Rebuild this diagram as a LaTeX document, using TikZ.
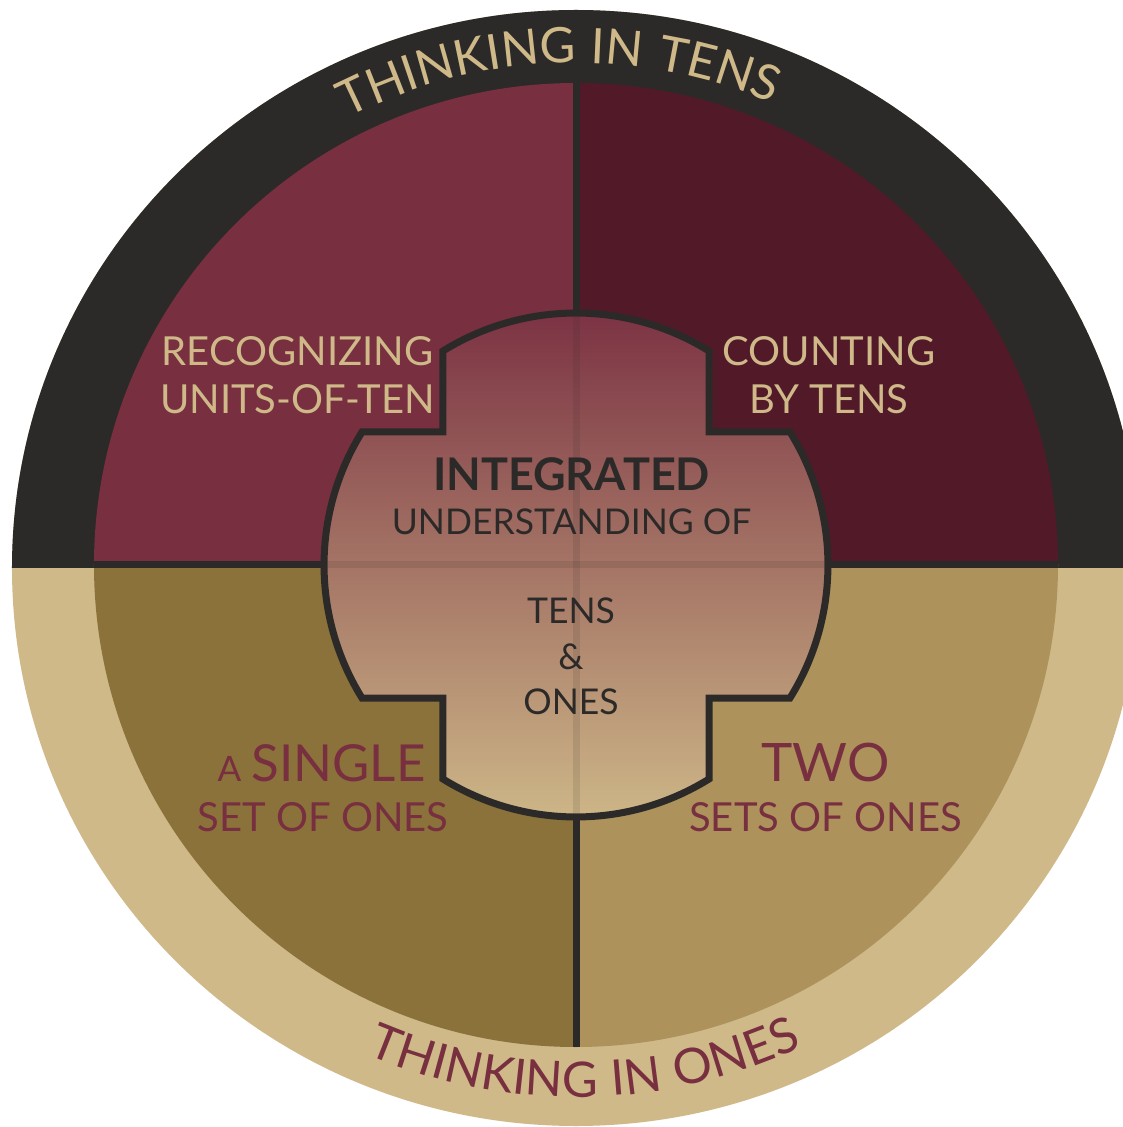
\documentclass[tikz,border=0pt]{standalone}
\usepackage{fontspec}
\setmainfont{Lato}
\newfontfamily\ringfamily[LetterSpace=4]{Lato}
\usetikzlibrary{decorations.text}

\definecolor{ringdark}{RGB}{44,42,40}
\definecolor{ringtan}{RGB}{207,185,137}
\definecolor{garnet}{RGB}{120,47,64}
\definecolor{darkgarnet}{RGB}{82,25,41}
\definecolor{olive}{RGB}{139,113,58}
\definecolor{gold}{RGB}{173,146,92}
\definecolor{crosstop}{RGB}{122,48,66}

\tikzstyle{divider}=[draw=ringdark,line width=7pt]
\tikzstyle{upperlabel}=[text=ringtan,anchor=base,inner sep=0pt,font=\fontsize{40}{40}\selectfont]
\tikzstyle{lowerlabel}=[text=garnet,anchor=base,inner sep=0pt,font=\fontsize{40}{40}\selectfont]
\tikzstyle{centerlabel}=[text=ringdark,anchor=base,inner sep=0pt,font=\fontsize{35.5}{35.5}\selectfont]
\tikzstyle{crossshape}=[draw=ringdark,line width=7pt,top color=crosstop,bottom color=ringtan]

\newcommand{\ringfont}{\ringfamily\fontsize{49}{49}\selectfont}

\begin{document}
\begin{tikzpicture}[x=1pt,y=1pt]
  \useasboundingbox (-576,-562) rectangle (547,565);

  % outer ring, dark above and tan below
  \fill[ringtan] (0,-3) ellipse [x radius=564pt,y radius=558pt];
  \begin{scope}
    \clip (-600,-3) rectangle (600,600);
    \fill[ringdark] (0,-3) ellipse [x radius=564pt,y radius=558pt];
  \end{scope}

  % four quadrants
  \begin{scope}
    \clip (0,0) circle [radius=482pt];
    \fill[garnet]     (-600,0.5) rectangle (0.5,600);
    \fill[darkgarnet] (0.5,0.5)  rectangle (600,600);
    \fill[olive]      (-600,0.5) rectangle (0.5,-600);
    \fill[gold]       (0.5,0.5)  rectangle (600,-600);
  \end{scope}
  \draw[divider] (0.5,482) -- (0.5,-482);
  \draw[divider] (-482,0.5) -- (482,0.5);

  % the cross in the middle
  \path[crossshape] (133,133) -- (133,214)
    arc [start angle=58.14,end angle=121.86,radius=252pt] -- (-133,133)
    -- (-214,133) arc [start angle=148.14,end angle=211.86,radius=252pt] -- (-133,-133)
    -- (-133,-214) arc [start angle=238.14,end angle=301.86,radius=252pt] -- (133,-133)
    -- (214,-133) arc [start angle=-31.86,end angle=31.86,radius=252pt] -- cycle;
  \draw[divider,draw opacity=0.12] (0.5,248) -- (0.5,-248);
  \draw[divider,draw opacity=0.12] (-248,0.5) -- (248,0.5);

  % ring texts
  \path[decorate,decoration={text along path,text align=center,text color=ringtan,
      text={|\ringfont|THINKING IN TENS}}]
    (152:502pt) arc [start angle=152,end angle=32,radius=502pt];
  \path[decorate,decoration={text along path,text align=center,text color=garnet,
      text={|\ringfont|THINKING IN ONES}}]
    (211:532pt) arc [start angle=211,end angle=331,radius=532pt];

  % quadrant texts
  \node[upperlabel] (recognizing) at (-278.5,199) {RECOGNIZING};
  \node[upperlabel] (unitsoften)  at (-278.5,151) {UNITS-OF-TEN};
  \node[upperlabel] (counting)    at (253,199)    {COUNTING};
  \node[upperlabel] (bytens)      at (253,151)    {BY TENS};
  \node[lowerlabel] (single)      at (-254.5,-216.5)
    {{\fontsize{35}{35}\selectfont A} {\fontsize{51}{51}\selectfont SINGLE}};
  \node[lowerlabel] (setofones)   at (-253,-266)  {SET OF ONES};
  \node[lowerlabel,font=\fontsize{53}{53}\selectfont] (two) at (249.5,-216.5) {TWO};
  \node[lowerlabel] (setsofones)  at (249.5,-266) {SETS OF ONES};

  % cross texts
  \node[centerlabel,font=\fontsize{45}{45}\selectfont\bfseries] (integrated) at (-4.5,74.3) {INTEGRATED};
  \node[centerlabel] (understanding) at (-4.5,30.4) {UNDERSTANDING OF};
  \node[centerlabel] (tens) at (-5,-58)  {TENS};
  \node[centerlabel] (amp)  at (-5,-104) {\&};
  \node[centerlabel] (ones) at (-5,-149) {ONES};
\end{tikzpicture}
\end{document}
